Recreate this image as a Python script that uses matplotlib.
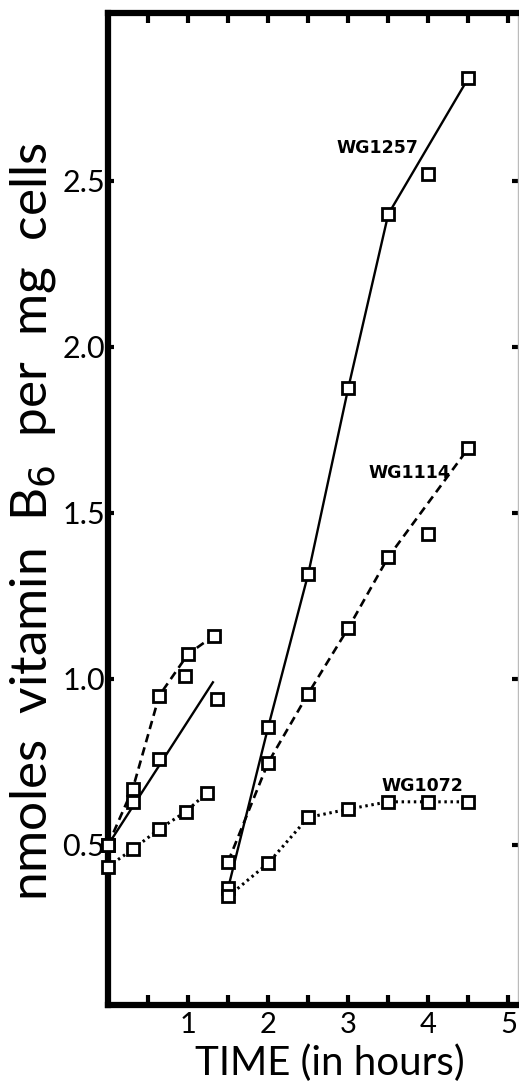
import matplotlib
matplotlib.use("Agg")
from matplotlib import pyplot as plt

# WG1257 (solid line)
t_1257_early = [0.0, 0.31, 0.64, 0.96, 1.36]
v_1257_early = [0.50, 0.63, 0.76, 1.01, 0.94]
t_1257_fit = [0.0, 1.31]
v_1257_fit = [0.50, 0.99]
t_1257 = [1.5, 2.0, 2.5, 3.0, 3.5, 4.5]
v_1257 = [0.37, 0.855, 1.316, 1.876, 2.40, 2.81]
t_1257_off = [4.0]
v_1257_off = [2.52]

# WG1114 (dashed line)
t_1114_early = [0.0, 0.31, 0.64, 1.0, 1.32]
v_1114_early = [0.50, 0.67, 0.95, 1.075, 1.13]
t_1114 = [1.5, 2.0, 2.5, 3.0, 3.5, 4.5]
v_1114 = [0.45, 0.748, 0.956, 1.153, 1.367, 1.695]
t_1114_off = [4.0]
v_1114_off = [1.436]

# WG1072 (dotted line)
t_1072_early = [0.0, 0.31, 0.64, 0.97, 1.24]
v_1072_early = [0.435, 0.487, 0.548, 0.60, 0.658]
t_1072 = [1.5, 2.0, 2.5, 3.0, 3.5, 4.0, 4.5]
v_1072 = [0.345, 0.445, 0.583, 0.608, 0.63, 0.63, 0.63]

strain_labels = ["WG1257", "WG1114", "WG1072"]
label_pos = [(3.37, 2.60), (3.76, 1.62), (3.93, 0.678)]

x_ticks = [1, 2, 3, 4, 5]
y_ticks = [0.5, 1.0, 1.5, 2.0, 2.5]

plt.rcParams['font.family'] = ['Lato', 'DejaVu Sans']

fig = plt.figure(figsize=(5.19, 10.85), dpi=100)
ax = fig.add_axes([108 / 519, 1 - 1005 / 1085, 410 / 519, 992 / 1085])

mk = dict(marker="s", markersize=8.5, markerfacecolor="white",
          markeredgecolor="black", markeredgewidth=2.0, clip_on=False, zorder=3)
solid = dict(color="black", lw=1.7, linestyle="-")
dashed = dict(color="black", lw=1.9, linestyle=(0, (3.2, 2.0)))
dotted = dict(color="black", lw=2.2, linestyle=(0, (0.8, 1.2)))

# linhas
ax.plot(t_1257_fit, v_1257_fit, **solid)
ax.plot(t_1257, v_1257, **solid)
ax.plot(t_1114_early, v_1114_early, **dashed)
ax.plot(t_1114, v_1114, **dashed)
ax.plot(t_1072_early, v_1072_early, **dotted)
ax.plot(t_1072, v_1072, **dotted)

# pontos
for t, v in [(t_1257_early, v_1257_early), (t_1257, v_1257), (t_1257_off, v_1257_off),
             (t_1114_early, v_1114_early), (t_1114, v_1114), (t_1114_off, v_1114_off),
             (t_1072_early, v_1072_early), (t_1072, v_1072)]:
    ax.plot(t, v, linestyle="none", **mk)

for nome, (x, y) in zip(strain_labels, label_pos):
    ax.text(x, y, nome, ha="center", va="center", fontsize=12.5, fontweight="bold",
            family=["DejaVu Sans"])

ax.set_xlim(0, 5.12)
ax.set_ylim(0.018, 3.006)

ax.set_xticks(x_ticks)
ax.set_xticklabels([str(x) for x in x_ticks], fontsize=21)
ax.set_xticks([0.5, 1.5, 2.5, 3.5, 4.5], minor=True)
ax.set_yticks(y_ticks)
ax.set_yticklabels([f"{y:.1f}" for y in y_ticks], fontsize=22)

ax.tick_params(axis="both", which="both", direction="in", top=True, right=True,
               width=3, length=7, pad=5)
ax.tick_params(axis="y", length=4, pad=2)

for lado in ["left", "top", "bottom"]:
    ax.spines[lado].set_linewidth(4.5)
ax.spines["right"].set_linewidth(1.0)
ax.spines["right"].set_color("#bbbbbb")

fig.text(33 / 519, 1 - 522 / 1085, "nmoles  vitamin  B$_6$  per  mg  cells",
         rotation=90, ha="center", va="center", fontsize=37)
fig.text(330 / 519, 1 - 1063 / 1085, "TIME (in hours)", ha="center", va="center",
         fontsize=29)

fig.savefig("out.png", dpi=100)
